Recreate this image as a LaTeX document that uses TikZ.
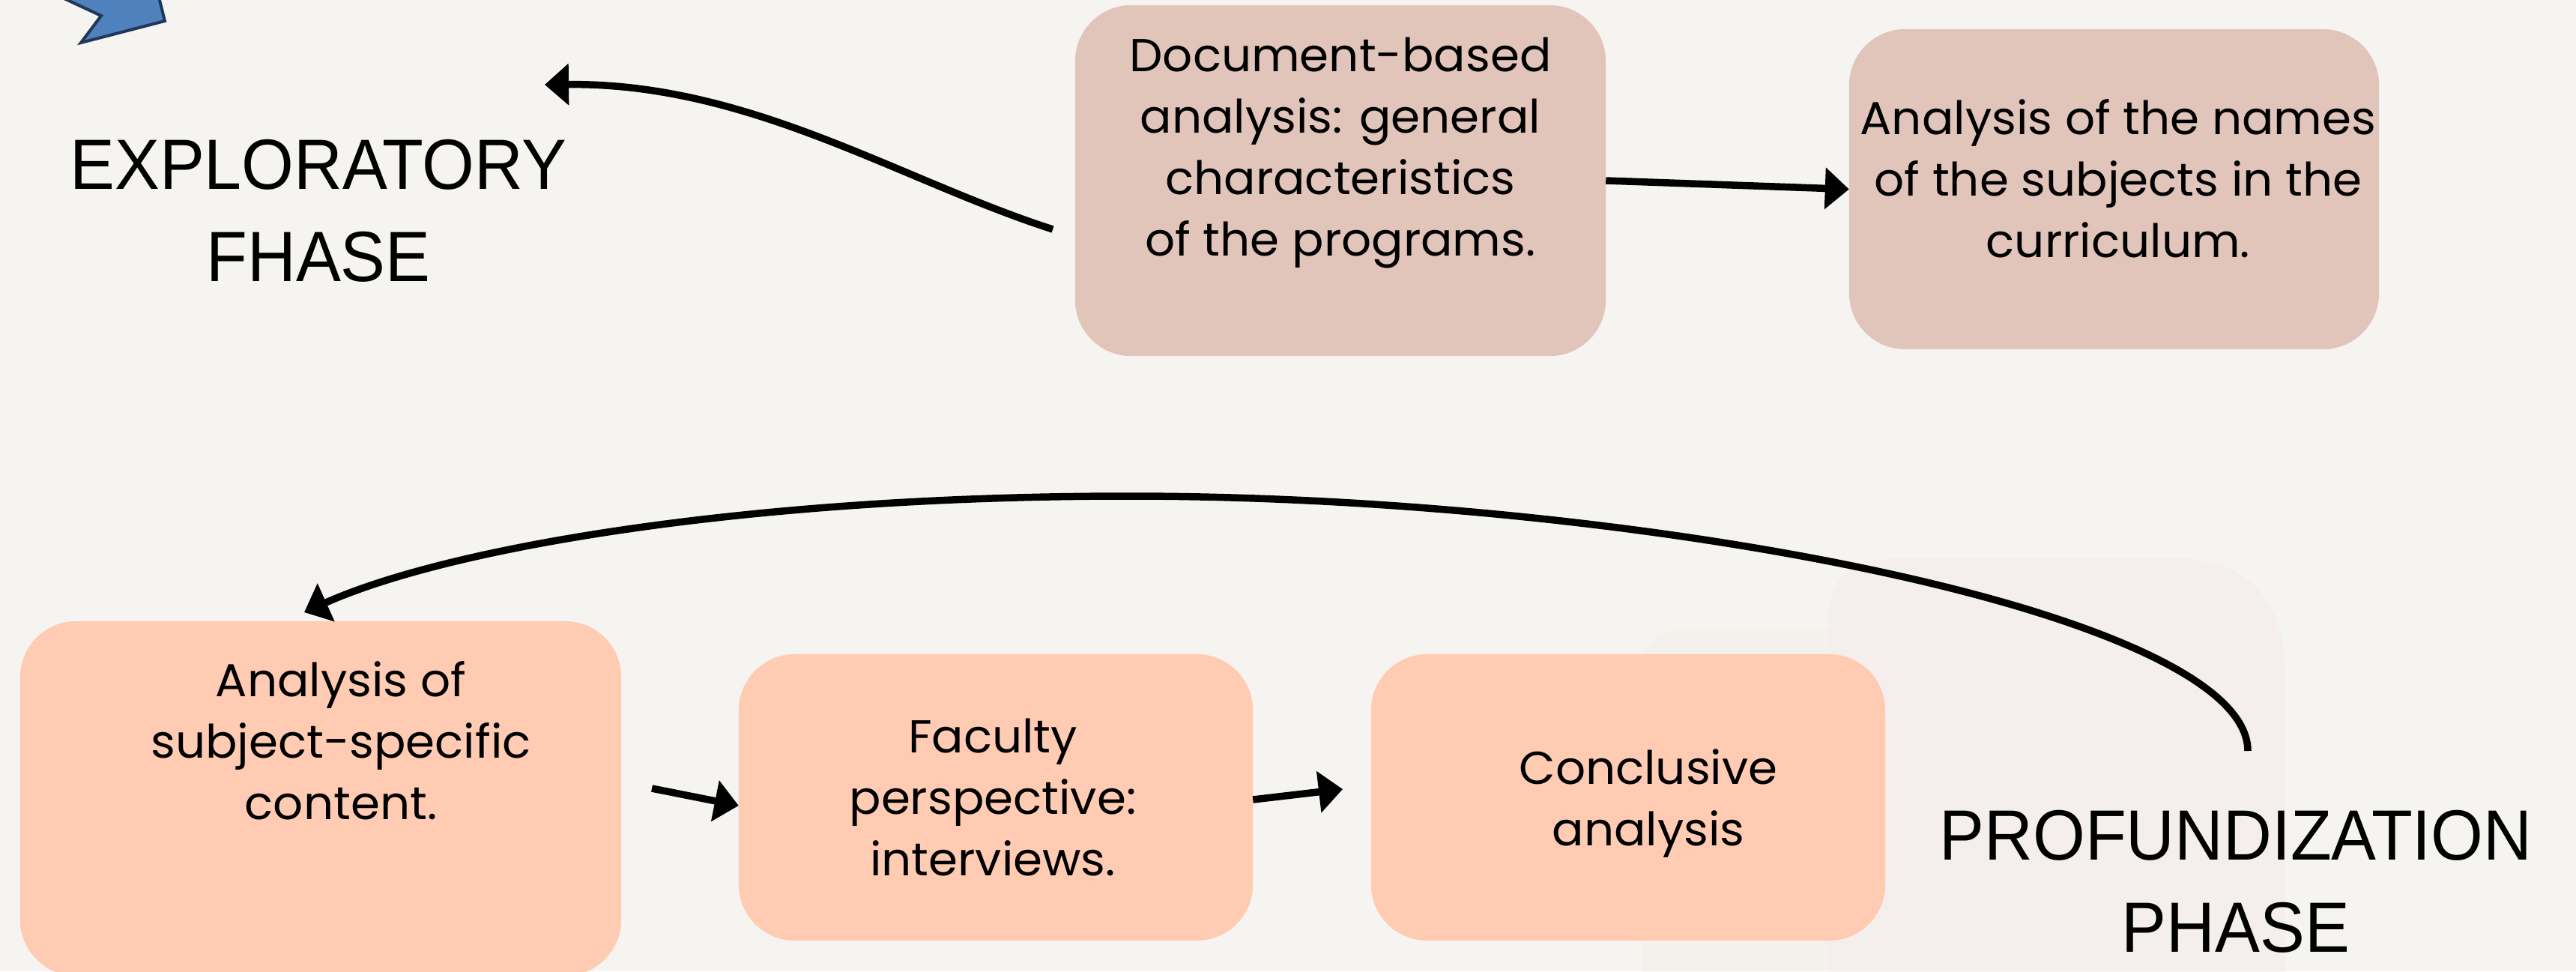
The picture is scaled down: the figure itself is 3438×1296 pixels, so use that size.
\documentclass[tikz,border=0pt]{standalone}
\usepackage{fontspec}
\newfontfamily\boxfont{Poppins}[FakeStretch=1.02]
\newfontfamily\headfont{Liberation Sans}[FakeStretch=0.945]
\usetikzlibrary{arrows.meta}
\definecolor{bgc}{RGB}{246,244,241}
\definecolor{topc}{RGB}{226,197,186}
\definecolor{botc}{RGB}{255,204,179}
\definecolor{stain}{RGB}{242,235,230}
\definecolor{bluef}{RGB}{79,129,189}
\definecolor{bluel}{RGB}{31,56,90}
\begin{document}
\begin{tikzpicture}[x=0.01cm,y=-0.01cm,
  box/.style={rectangle, rounded corners=0.75cm, draw=none, inner sep=0pt, outer sep=0pt},
  boxtxt/.style={align=center, inner sep=0pt, anchor=base, text=black,
    font=\boxfont\fontsize{17.5}{23.3}\selectfont},
  headtxt/.style={align=center, inner sep=0pt, anchor=base, text=black,
    font=\headfont\fontsize{27}{34.7}\selectfont},
  arr/.style={line width=0.095cm, draw=black, -{Triangle[length=0.32cm,width=0.54cm]}}]
\useasboundingbox (0,0) rectangle (3438,1296);
\fill[bgc] (0,0) rectangle (3438,1296);
% faint watercolour stain
\fill[stain, opacity=0.45] (2440,1300) -- (2440,830) .. controls (2440,770) and (2470,745) .. (2540,745)
  -- (2900,745) .. controls (3000,745) and (3050,800) .. (3050,900) -- (3050,1300) -- cycle;
\fill[stain, opacity=0.3] (2190,1300) -- (2190,900) .. controls (2190,860) and (2210,840) .. (2250,840)
  -- (2440,840) -- (2440,1300) -- cycle;
% blue chevron fragment
\filldraw[fill=bluef, draw=bluel, line width=0.04cm, line join=miter]
  (77,-6) -- (135,21) -- (108,57) -- (220,28) -- (211.5,-6) -- cycle;
% boxes
\node[box, fill=topc, minimum width=7.08cm, minimum height=4.68cm] (b1) at (1789,241) {};
\node[box, fill=topc, minimum width=7.07cm, minimum height=4.27cm] (b2) at (2821.5,252.5) {};
\node[box, fill=botc, minimum width=8.02cm, minimum height=4.73cm] (b3) at (428,1065.5) {};
\node[box, fill=botc, minimum width=6.86cm, minimum height=3.82cm] (b4) at (1329,1064) {};
\node[box, fill=botc, minimum width=6.86cm, minimum height=3.82cm] (b5) at (2173,1064) {};
% box texts (anchor = baseline of the last line)
\node[boxtxt] (t1) at (1789,341) {Document-based\\analysis: general\\characteristics\\of the programs.};
\node[boxtxt] (t2) at (2827,343) {Analysis of the names\\of the subjects in the\\curriculum.};
\node[boxtxt] (t3) at (455,1093) {Analysis of\\subject-specific\\content.};
\node[boxtxt] (t4) at (1325,1168) {Faculty\\perspective:\\interviews.};
\node[boxtxt] (t5) at (2200,1128) {Conclusive\\analysis};
% phase headings
\node[headtxt] (h1) at (425,375) {EXPLORATORY\\FHASE};
\node[headtxt] (h2) at (2984,1270) {PROFUNDIZATION\\PHASE};
% connectors
\coordinate (c1s) at (1405,306);
\coordinate (c1e) at (727,113);
\draw[arr] (c1s) .. controls (1200,240) and (1000,110) .. (c1e);
\draw[arr] (b1.east) -- (b2.west);
\coordinate (c3s) at (870,1052);
\draw[arr] (c3s) -- ([yshift=-0.11cm]b4.west);
\coordinate (c4e) at (1792,1053);
\draw[arr] ([yshift=-0.03cm]b4.east) -- (c4e);
\coordinate (c5s) at (3000,1002);
\coordinate (c5m) at (1506,662);
\coordinate (c5e) at (406,817);
\draw[arr] (c5s) .. controls (3000,820) and (2200,662) .. (c5m) .. controls (1000,662) and (600,730) .. (c5e);
\end{tikzpicture}
\end{document}
